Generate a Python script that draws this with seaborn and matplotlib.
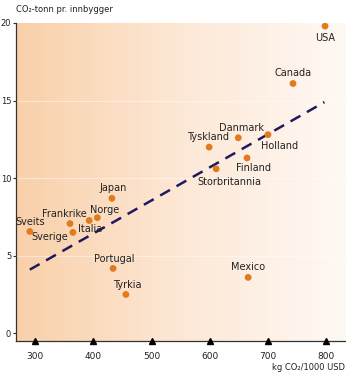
import numpy as np
import pandas as pd
import matplotlib
matplotlib.use("Agg")
import matplotlib.pyplot as plt
import seaborn as sns
from matplotlib import font_manager as fm
from matplotlib.colors import LinearSegmentedColormap

# ---- data ----
countries = ["USA", "Canada", "Danmark", "Tyskland", "Holland", "Finland", "Storbritannia",
             "Japan", "Norge", "Italia", "Frankrike", "Sverige", "Sveits", "Portugal",
             "Tyrkia", "Mexico"]
intensity = [798, 743, 649, 599, 700, 664, 611, 432, 407, 393, 360, 365, 291, 434, 456, 666]
per_capita = [19.8, 16.1, 12.6, 12.0, 12.8, 11.3, 10.6, 8.7, 7.45, 7.27, 7.07, 6.5, 6.56, 4.18, 2.5, 3.6]
trend_x = [291, 797]
trend_y = [4.1, 14.9]
x_ticks = [300, 400, 500, 600, 700, 800]
y_ticks = [0, 5, 10, 15, 20]
y_label = "CO₂-tonn pr. innbygger"
x_label = "kg CO₂/1000 USD"

# label offsets (pixels) and alignment
offsets = {
    "USA": (0, -12, "center"), "Canada": (0, 10, "center"), "Danmark": (3, 10, "center"),
    "Tyskland": (-1, 10, "center"), "Holland": (12, -11, "center"), "Finland": (6, -10, "center"),
    "Storbritannia": (13, -13, "center"), "Japan": (1, 10, "center"), "Norge": (7, 8, "center"),
    "Italia": (1, -9, "center"), "Frankrike": (-6, 10, "center"), "Sverige": (-5, -5, "right"),
    "Sveits": (0, 9, "center"), "Portugal": (1, 9, "center"), "Tyrkia": (1, 9, "center"),
    "Mexico": (0, 10, "center"),
}

df = pd.DataFrame({"land": countries, "x": intensity, "y": per_capita})
trend = pd.DataFrame({"x": trend_x, "y": trend_y})

sns.set_style("white")
avail = {f.name for f in fm.fontManager.ttflist}
fam = "Liberation Sans Narrow" if "Liberation Sans Narrow" in avail else "DejaVu Sans"
plt.rcParams["font.family"] = [fam, "DejaVu Sans"]

W, H = 346, 386
fig = plt.figure(figsize=(W / 100, H / 100), dpi=100)
ax = fig.add_axes([16 / W, 45 / H, 1 - 16 / W, (363 - 45) / H])

xlim = (267.3, 834)
ylim = (-0.5, 20)
ax.set_xlim(*xlim)
ax.set_ylim(*ylim)

# gradient background
cmap = LinearSegmentedColormap.from_list("peach", ["#f9d0a9", "#fde8d6", "#fff9f4"])
grad = np.linspace(0, 1, 256).reshape(1, -1)
ax.imshow(grad, extent=[xlim[0], xlim[1], ylim[0], ylim[1]], aspect="auto", cmap=cmap,
          zorder=0)

for v in [5, 10, 15]:
    ax.axhline(v, color="white", lw=0.8, alpha=0.45, zorder=1)

sns.lineplot(data=trend, x="x", y="y", ax=ax, color="#1f1a5c", lw=1.8,
             dashes=False, zorder=2)
ax.lines[-1].set_dashes([4.5, 3])

sns.scatterplot(data=df, x="x", y="y", ax=ax, color="#e07b1e", s=24, edgecolor="none",
                zorder=3)

for _, r in df.iterrows():
    dx, dy, ha = offsets[r["land"]]
    ax.annotate(r["land"], (r["x"], r["y"]), xytext=(dx, dy), textcoords="offset pixels",
                ha=ha, va="center", fontsize=7, color="#222222", zorder=4)

# axes styling
for s in ["top", "right"]:
    ax.spines[s].set_visible(False)
ax.spines["left"].set_color("#333333")
ax.spines["bottom"].set_color("#333333")
ax.spines["left"].set_linewidth(0.9)
ax.spines["bottom"].set_linewidth(0.9)

ax.set_yticks(y_ticks)
ax.set_yticklabels([str(v) for v in y_ticks])
ax.tick_params(axis="y", length=2.5, width=0.8, color="#333333", pad=1, labelsize=6,
               labelcolor="#222222", direction="out", left=True)
ax.set_xticks(x_ticks)
ax.set_xticklabels([str(v) for v in x_ticks])
ax.tick_params(axis="x", length=0, pad=8, labelsize=6.5, labelcolor="#222222", bottom=True)
ax.plot(x_ticks, [ylim[0]] * len(x_ticks), linestyle="none", marker="^", color="black",
        markersize=4, clip_on=False, zorder=5)
ax.set_xlabel("")
ax.set_ylabel("")

fig.text(16 / W, 1 - 9 / H, y_label, ha="left", va="center", fontsize=6.0, color="#222222")
fig.text(345 / W, 1 - 367 / H, x_label, ha="right", va="center", fontsize=6.0, color="#222222")

fig.savefig("out.png", dpi=100)
